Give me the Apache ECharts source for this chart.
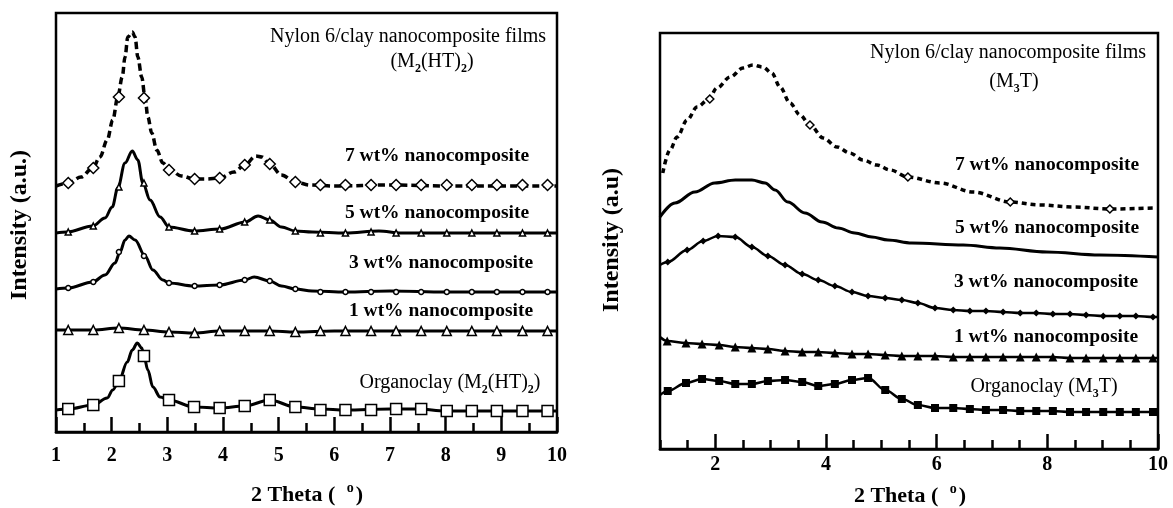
<!DOCTYPE html>
<html>
<head>
<meta charset="utf-8">
<script src="https://cdn.jsdelivr.net/npm/echarts@6/dist/echarts.min.js"></script>
<style>
  html, body { margin: 0; padding: 0; background: #fff; }
  #chart { width: 1173px; height: 508px; }
</style>
</head>
<body>
<div id="chart"></div>
<script>
// left panel: Nylon 6 / M2(HT)2, intensity in arbitrary units (0..419)
const leftTicks = [1, 2, 3, 4, 5, 6, 7, 8, 9, 10]
const l7Line = [[1.0,246],[1.22,249],[1.45,255],[1.66,264],[1.79,275],[1.92,292],[2.02,312],[2.11,335],[2.19,355],[2.24,375],[2.29,395],[2.37,400],[2.42,395],[2.47,375],[2.54,355],[2.60,334],[2.65,315],[2.72,299],[2.81,282],[2.92,269],[3.05,262],[3.25,256],[3.49,253],[3.70,253],[3.94,254],[4.20,260],[4.39,267],[4.59,276],[4.70,275],[4.84,268],[5.05,257],[5.30,250],[5.56,247],[6,246],[7,247],[8,246],[9,246],[10,246]]
const l7Marks = [[1.22,249],[1.67,264],[2.13,335],[2.58,334],[3.03,262],[3.49,253],[3.94,254],[4.39,267],[4.84,268],[5.30,250],[5.75,247],[6.20,247],[6.66,247],[7.11,247],[7.56,247],[8.02,247],[8.47,247],[8.92,247],[9.38,247],[9.83,247]]
const l5Line = [[1.0,199],[1.20,200],[1.66,206],[1.88,214],[2.01,225],[2.11,244],[2.24,269],[2.37,281],[2.47,272],[2.56,249],[2.69,232],[2.87,215],[3.03,205],[3.48,201],[3.95,203],[4.40,210],[4.63,216],[4.84,212],[5.05,205],[5.30,201],[5.6,200],[6.2,199],[6.8,201],[7.2,199],[8,199],[9,199],[10,199]]
const l5Marks = [[1.22,200],[1.67,206],[2.13,245],[2.58,249],[3.03,205],[3.49,201],[3.94,203],[4.39,210],[4.84,212],[5.30,201],[5.75,199],[6.20,199],[6.66,200],[7.11,199],[7.56,199],[8.02,199],[8.47,199],[8.92,199],[9.38,199],[9.83,199]]
const l3Line = [[1.0,143],[1.22,144],[1.66,150],[1.88,157],[2.06,169],[2.15,180],[2.24,192],[2.31,196],[2.42,192],[2.60,176],[2.74,162],[2.92,152],[3.03,149],[3.48,146],[3.94,147],[4.39,152],[4.56,155],[4.84,151],[5.05,146],[5.30,143],[5.6,141],[6.2,140],[7,141],[8,140],[10,140]]
const l3Marks = [[1.22,144],[1.67,150],[2.13,180],[2.58,176],[3.03,149],[3.49,146],[3.94,147],[4.39,152],[4.84,151],[5.30,143],[5.75,140],[6.20,140],[6.66,140],[7.11,140],[7.56,140],[8.02,140],[8.47,140],[8.92,140],[9.38,140],[9.83,140]]
const l1Line = [[1.0,102],[1.22,102],[1.67,102],[2.13,104],[2.58,102],[3.03,100],[3.49,99],[3.94,101],[4.39,101],[4.84,101],[5.30,100],[6,101],[7,101],[8,101],[9,101],[10,101]]
const l1Marks = [[1.22,102],[1.67,102],[2.13,104],[2.58,102],[3.03,100],[3.49,99],[3.94,101],[4.39,101],[4.84,101],[5.30,100],[5.75,101],[6.20,101],[6.66,101],[7.11,101],[7.56,101],[8.02,101],[8.47,101],[8.92,101],[9.38,101],[9.83,101]]
const lOrgLine = [[1.0,22],[1.22,23],[1.67,27],[1.92,34],[2.02,42],[2.13,51],[2.28,70],[2.37,82],[2.46,89],[2.54,84],[2.58,76],[2.65,62],[2.74,45],[2.87,35],[3.03,32],[3.48,25],[3.94,24],[4.39,26],[4.84,32],[5.30,25],[5.75,23],[6.2,22],[7,23],[7.5,23],[8,21],[9,21],[10,21]]
const lOrgMarks = [[1.22,23],[1.67,27],[2.13,51],[2.58,76],[3.03,32],[3.48,25],[3.94,24],[4.39,26],[4.84,32],[5.30,25],[5.75,22],[6.20,22],[6.66,22],[7.11,23],[7.56,23],[8.02,21],[8.47,21],[8.92,21],[9.38,21],[9.83,21]]

// right panel: Nylon 6 / M3T, intensity in arbitrary units (0..416)
const rightTicks = [2, 4, 6, 8, 10]
const r7Line = [[1.05,276],[1.18,299],[1.31,312],[1.49,329],[1.67,342],[1.87,349],[2.03,361],[2.27,372],[2.50,381],[2.68,384],[2.86,382],[3.02,376],[3.17,362],[3.35,346],[3.53,334],[3.71,324],[3.95,311],[4.20,302],[4.43,296],[4.67,289],[4.92,284],[5.16,279],[5.48,272],[6.06,266],[6.66,257],[7.33,247],[7.87,244],[8.46,242],[9.13,240],[9.96,241]]
const r7Marks = [[1.90,350],[3.71,324],[5.48,272],[7.33,247],[9.13,240]]
const r5Line = [[1.00,232],[1.27,246],[1.63,257],[1.99,266],[2.36,269],[2.66,269],[2.90,266],[3.08,259],[3.31,247],[3.62,236],[3.93,227],[4.22,221],[4.52,216],[4.83,212],[5.12,209],[5.55,206],[6.48,204],[7.14,201],[7.99,197],[8.95,194],[10,192]]
const r3Marks = [[1.14,187],[1.49,199],[1.78,208],[2.05,213],[2.36,212],[2.66,202],[2.95,193],[3.26,184],[3.57,175],[3.86,169],[4.16,163],[4.47,157],[4.76,153],[5.07,151],[5.37,149],[5.66,146],[5.97,141],[6.30,139],[6.60,138],[6.89,138],[7.20,137],[7.51,136],[7.80,136],[8.10,135],[8.41,135],[8.70,134],[9.01,133],[9.31,133],[9.60,133],[9.91,132]]
const r3Line = [[1.0,184]].concat(r3Marks, [[10,132]])
const r1Marks = [[1.13,108],[1.47,106],[1.76,105],[2.07,104],[2.36,102],[2.66,101],[2.95,100],[3.26,98],[3.57,97],[3.86,97],[4.16,96],[4.47,95],[4.76,95],[5.07,94],[5.37,93],[5.66,93],[5.97,93],[6.30,92],[6.60,92],[6.89,92],[7.20,92],[7.51,92],[7.80,92],[8.10,92],[8.41,91],[8.70,91],[9.01,91],[9.31,91],[9.60,91],[9.91,91]]
const r1Line = [[1.0,112]].concat(r1Marks, [[10,91]])
const rOrgMarks = [[1.14,58],[1.47,66],[1.76,70],[2.07,68],[2.36,65],[2.66,65],[2.95,68],[3.26,69],[3.57,67],[3.86,63],[4.16,65],[4.47,69],[4.76,71],[5.07,59],[5.37,50],[5.66,44],[5.97,41],[6.30,41],[6.60,40],[6.89,39],[7.20,39],[7.51,38],[7.80,38],[8.10,38],[8.41,37],[8.70,37],[9.01,37],[9.31,37],[9.60,37],[9.91,37]]
const rOrgLine = [[1.0,54]].concat(rOrgMarks, [[10,37]])

const FONT = '"Liberation Serif", "Times New Roman", serif'

const chart = echarts.init(document.getElementById('chart'))

function curve(data, xi, yi, dash, width) {
  return {
    type: 'line', xAxisIndex: xi, yAxisIndex: yi, data: data,
    showSymbol: false, smooth: 0.35, smoothMonotone: 'x', silent: true,
    lineStyle: { color: '#000', width: width || 3, type: dash || 'solid' },
    z: 2
  }
}

function marks(data, xi, yi, symbol, size, filled) {
  return {
    type: 'scatter', xAxisIndex: xi, yAxisIndex: yi, data: data,
    symbol: symbol, symbolSize: size, silent: true,
    itemStyle: { color: filled ? '#000' : '#fff', borderColor: '#000', borderWidth: filled ? 0 : 1.5, opacity: 1 },
    z: 3
  }
}

// text with sub/superscripts
const rich = {
  t: { fontFamily: FONT, fontSize: 20, fontWeight: 'normal', color: '#000' },
  b: { fontFamily: FONT, fontSize: 19.5, fontWeight: 'bold', color: '#000' },
  s: { fontFamily: FONT, fontSize: 12, fontWeight: 'bold', color: '#000', padding: [13, 0, 0, 0] },
  ax: { fontFamily: FONT, fontSize: 22, fontWeight: 'bold', color: '#000' },
  yl: { fontFamily: FONT, fontSize: 24, fontWeight: 'bold', color: '#000' },
  sup: { fontFamily: FONT, fontSize: 14, fontWeight: 'bold', color: '#000', padding: [0, 2, 14, 6] }
}

function label(x, y, text, rot) {
  return {
    type: 'text', x: x, y: y, rotation: rot || 0, silent: true,
    style: { text: text, rich: rich, align: 'center', verticalAlign: 'middle' }
  }
}

const option = {
  animation: false,
  backgroundColor: '#fff',
  grid: [
    { left: 56, top: 13, width: 501, height: 419, show: true, borderColor: '#000', borderWidth: 2.5, backgroundColor: 'transparent' },
    { left: 660, top: 33, width: 498, height: 416, show: true, borderColor: '#000', borderWidth: 2.5, backgroundColor: 'transparent' }
  ],
  xAxis: [
    {
      gridIndex: 0, type: 'value', min: 1, max: 10, interval: 1,
      axisLine: { show: true, lineStyle: { color: '#000', width: 2.5 } },
      axisTick: { show: true, inside: true, length: 15, lineStyle: { color: '#000', width: 2.5 } },
      minorTick: { show: true, splitNumber: 2, length: 9, lineStyle: { color: '#000', width: 2.5 } },
      axisLabel: { margin: 14, fontFamily: FONT, fontSize: 20, fontWeight: 'bold', color: '#000',
        customValues: leftTicks },
      splitLine: { show: false }
    },
    {
      gridIndex: 1, type: 'value', min: 1, max: 10, interval: 0.5,
      axisLine: { show: true, lineStyle: { color: '#000', width: 2.5 } },
      axisTick: { show: true, inside: true, length: 9, lineStyle: { color: '#000', width: 2.5 } },
      axisLabel: { show: false },
      splitLine: { show: false }
    },
    {
      gridIndex: 1, type: 'value', min: 1, max: 10, position: 'bottom',
      axisLine: { show: false },
      axisTick: { show: true, inside: true, length: 15, customValues: rightTicks, lineStyle: { color: '#000', width: 2.5 } },
      axisLabel: { margin: 6, fontFamily: FONT, fontSize: 20, fontWeight: 'bold', color: '#000',
        customValues: rightTicks },
      splitLine: { show: false }
    }
  ],
  yAxis: [
    { gridIndex: 0, type: 'value', min: 0, max: 419, show: false },
    { gridIndex: 1, type: 'value', min: 0, max: 416, show: false }
  ],
  series: [
    curve(l7Line, 0, 0, [7, 4], 3.5),
    curve(l5Line, 0, 0),
    curve(l3Line, 0, 0),
    curve(l1Line, 0, 0),
    curve(lOrgLine, 0, 0),
    marks(l7Marks, 0, 0, 'diamond', 11, false),
    marks(l5Marks, 0, 0, 'triangle', 6, false),
    marks(l3Marks, 0, 0, 'circle', 5, false),
    marks(l1Marks, 0, 0, 'triangle', 9, false),
    marks(lOrgMarks, 0, 0, 'rect', 11, false),

    curve(r7Line, 1, 1, [5, 4], 3.5),
    curve(r5Line, 1, 1, 'solid', 3),
    curve(r3Line, 1, 1, 'solid', 2.5),
    curve(r1Line, 1, 1, 'solid', 2.5),
    curve(rOrgLine, 1, 1, 'solid', 2.5),
    marks(r7Marks, 1, 1, 'diamond', 8, false),
    marks(r3Marks, 1, 1, 'diamond', 7, true),
    marks(r1Marks, 1, 1, 'triangle', 9, true),
    marks(rOrgMarks, 1, 1, 'rect', 8, true)
  ],
  graphic: [
    label(408, 37, '{t|Nylon 6/clay nanocomposite films}'),
    label(432, 62, '{t|(M}{s|2}{t|(HT)}{s|2}{t|)}'),
    label(437, 156, '{b|7 wt% nanocomposite}'),
    label(437, 213, '{b|5 wt% nanocomposite}'),
    label(441, 263, '{b|3 wt% nanocomposite}'),
    label(441, 311, '{b|1 wt% nanocomposite}'),
    label(450, 383, '{t|Organoclay (M}{s|2}{t|(HT)}{s|2}{t|)}'),
    label(307, 495, '{ax|2 Theta ( }{sup|o}{ax|)}'),
    label(20, 225, '{yl|Intensity (a.u.)}', Math.PI / 2),

    label(1008, 53, '{t|Nylon 6/clay nanocomposite films}'),
    label(1014, 82, '{t|(M}{s|3}{t|T)}'),
    label(1047, 165, '{b|7 wt% nanocomposite}'),
    label(1047, 228, '{b|5 wt% nanocomposite}'),
    label(1046, 282, '{b|3 wt% nanocomposite}'),
    label(1046, 337, '{b|1 wt% nanocomposite}'),
    label(1044, 387, '{t|Organoclay (M}{s|3}{t|T)}'),
    label(910, 496, '{ax|2 Theta ( }{sup|o}{ax|)}'),
    label(612, 240, '{yl|Intensity (a.u)}', Math.PI / 2)
  ]
}

chart.setOption(option)
</script>
</body>
</html>
